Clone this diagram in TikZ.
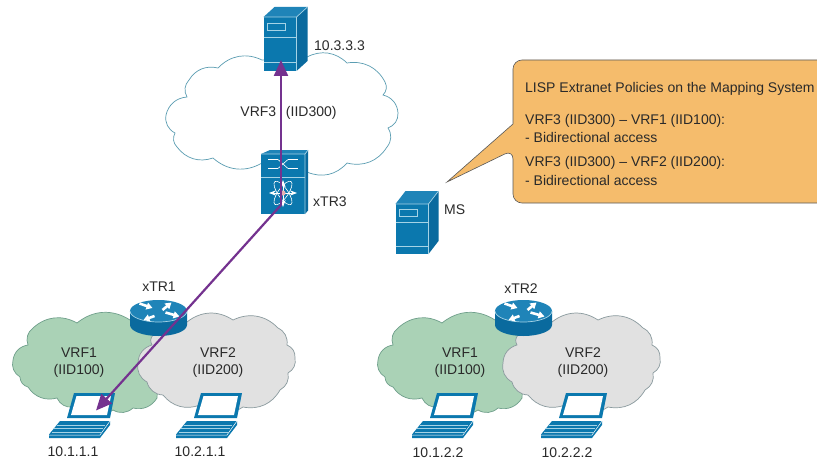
\documentclass[tikz,border=0pt]{standalone}
\usepackage{fontspec}
\setmainfont{Liberation Sans}
\usetikzlibrary{arrows.meta}
\definecolor{iconblue}{HTML}{0B78AE}
\definecolor{icontop}{HTML}{1F84B8}
\definecolor{icondark}{HTML}{0A6A9E}
\definecolor{iconline}{HTML}{A5D3E6}
\definecolor{cloudline}{HTML}{5B9DB2}
\definecolor{greenfill}{HTML}{AAD2B6}
\definecolor{greenline}{HTML}{6F9F8B}
\definecolor{grayfill}{HTML}{E1E1E1}
\definecolor{grayline}{HTML}{8A9A9E}
\definecolor{pathpurple}{HTML}{74328F}
\definecolor{calloutfill}{HTML}{F5BC6C}
\definecolor{inktext}{HTML}{2A2A2A}
\tikzset{
  lbl/.style={font=\fontsize{14}{16}\selectfont,text=inktext,inner sep=0pt},
  lblleft/.style={lbl,anchor=west},
  iconedge/.style={draw=iconline,line width=0.7pt},
  sc/.style={bend right=36},
  scr/.style={bend left=36},
  pathline/.style={draw=pathpurple,line width=2.2pt},
  patharrow/.style={pathline,-{Triangle[length=16pt,width=14pt]}},
}
% server: #1 = x of front left, #2 = y of front top, #3 = height, #4 = depth x, #5 = depth y
\newcommand{\serverbox}[5]{%
  \begin{scope}[shift={(#1,#2)}]
    \fill[iconblue] (0,0) -- (33,0) -- (33,#3) -- (0,#3) -- cycle;
    \fill[icontop] (0,0) -- (#4,-#5) -- (33+#4,-#5) -- (33,0) -- cycle;
    \fill[icondark] (33,0) -- (33+#4,-#5) -- (33+#4,#3-#5) -- (33,#3) -- cycle;
    \draw[iconedge] (0,0) -- (33,0) -- (33,#3) (33,0) -- (33+#4,-#5);
    \draw[iconedge] (0,0.37*#3) -- (33,0.37*#3);
    \draw[iconedge] (0,0.84*#3) -- (33,0.84*#3);
    \draw[iconedge] (4,0.11*#3) rectangle (22,0.24*#3);
  \end{scope}}
% laptop: #1 = x shift, first laptop at shift 0
\newcommand{\laptopicon}[1]{%
  \begin{scope}[xshift=#1]
    \fill[iconblue] (74,393) -- (115,393) -- (110,418) -- (67,418) -- cycle;
    \fill[white] (76.5,396) -- (111,396) -- (107,415) -- (71,415) -- cycle;
    \fill[iconblue] (60,421) -- (110,421) -- (110,425) -- (100,438) -- (49,438) -- (49,434.5) -- cycle;
    \draw[iconline,line width=0.4pt] (57,425) -- (105,425) (54,428.5) -- (103,428.5) (52,432) -- (101,432);
    \draw[white,line width=0.5pt] (49,435) -- (100,435) -- (110,421);
  \end{scope}}
% router: #1 = x centre
\newcommand{\routericon}[1]{%
  \begin{scope}[xshift=#1]
    \fill[icondark] (-28.5,311) -- (-28.5,325) arc[start angle=180,end angle=360,x radius=28.5,y radius=-11] -- (28.5,311) -- cycle;
    \fill[icontop] (0,311) ellipse[x radius=28.5,y radius=11];
    \draw[iconedge] (-28.5,311) arc[start angle=180,end angle=360,x radius=28.5,y radius=-11];
    \begin{scope}[white,line width=2.6pt,-{Triangle[length=6pt,width=7pt]}]
      \draw (-19,303.5) -- (-6,308);
      \draw (-4,316) -- (-15,320);
      \draw (4,310) -- (13,302.5);
      \draw (7,312.5) -- (21,316.5);
    \end{scope}
  \end{scope}}
% VRF1 and VRF2 clouds: #1 = x shift
\newcommand{\cloudpair}[1]{%
  \begin{scope}[xshift=#1]
    \filldraw[fill=greenfill,draw=greenline,line width=0.7pt]
      (130,320) to[sc] (77,323) to[sc] (33,328) to[sc] (28,345) to[sc] (13,360) to[sc] (20,377)
      to[sc] (28,387) to[sc] (57,398) to[sc] (73,407) to[sc] (113,410) to[sc] (133,408)
      to[sc] (157,398) -- (160,340) -- cycle;
    \filldraw[fill=grayfill,draw=grayline,line width=0.7pt]
      (187,322) to[scr] (233,320) to[scr] (278,328) to[scr] (287,345) to[scr] (295,358)
      to[scr] (288,373) to[scr] (280,390) to[scr] (243,407) to[scr] (200,405) to[scr] (163,395)
      to[scr] (147,382) to[scr] (138,363) to[scr] (152,345) to[scr] (153,335) -- cycle;
  \end{scope}}
\begin{document}
\begin{tikzpicture}[x=1pt,y=-1pt]
  \useasboundingbox (0,0) rectangle (817,460);
  \clip (0,0) rectangle (817,460);
  \fill[white] (0,0) rectangle (817,460);

  % VRF3 cloud
  \filldraw[fill=white,draw=cloudline,line width=0.7pt]
    (262,60) to[sc] (218,68) to[sc] (189,80) to[sc] (187,97) to[sc] (166,115) to[sc] (175,133)
    to[sc] (177,147) to[sc] (213,158) to[sc] (262,163) to[sc] (307,172) to[sc] (347,163)
    to[sc] (387,147) to[sc] (388,128) to[sc] (398,113) to[sc] (383,95) to[sc] (385,82)
    to[sc] (347,63) to[sc] (307,57) -- cycle;

  % lower clouds
  \cloudpair{0}
  \cloudpair{365}

  % callout
  \filldraw[fill=calloutfill,draw=black!65,line width=0.6pt,rounded corners=9pt]
    (513,60) -- (840,60) -- (840,203) -- (513,203) -- (513,150)
    [sharp corners] -- (447,182) -- (513,124) [rounded corners=9pt] -- cycle;

  % devices
  \serverbox{263.5}{17}{54}{11}{10}
  \serverbox{395.5}{204}{50}{10}{13}

  % xTR3 switch
  \fill[iconblue] (261,154) rectangle (305,214);
  \fill[icontop] (261,154) -- (270,150) -- (308,150) -- (305,154) -- cycle;
  \fill[icondark] (305,154) -- (308,150) -- (308,210.5) -- (305,214) -- cycle;
  \draw[iconedge] (261,154) -- (305,154) -- (305,214) (305,154) -- (308,150);
  \draw[iconedge] (261,177) -- (305,177);
  \begin{scope}[white,line width=1.8pt]
    \draw (268,159.5) -- (278,159.5) (268,168.5) -- (278,168.5);
    \draw (288,159.5) -- (298,159.5) (288,168.5) -- (298,168.5);
  \end{scope}
  \draw[white,line width=0.6pt] (278,159.5) -- (288,168.5) (278,168.5) -- (288,159.5);
  \begin{scope}[white,line width=0.6pt]
    \draw[rotate around={55:(283,193)}] (283,193) ellipse[x radius=14,y radius=5];
    \draw[rotate around={-55:(283,193)}] (283,193) ellipse[x radius=14,y radius=5];
    \draw[<->,>=Stealth,line width=0.9pt] (269,193) -- (297,193);
    \draw[<->,>=Stealth,line width=0.9pt] (283,180) -- (283,207);
  \end{scope}
  \fill[pink!80!gray] (283,193) circle[radius=2.6];

  \laptopicon{0}
  \laptopicon{127}
  \laptopicon{363}
  \laptopicon{492}
  \routericon{158.5}
  \routericon{523.5}

  % labels
  \node[lblleft] (l3333) at (314,46) {10.3.3.3};
  \node[lbl] (lvrf3) at (288.5,112.5) {VRF3\hspace{0.7em}(IID300)};
  \node[lblleft] (lxtr3) at (313,202) {xTR3};
  \node[lblleft] (lms) at (444,210) {MS};
  \node[lbl] (lxtr1) at (159,286.5) {xTR1};
  \node[lbl] (lxtr2) at (521,288.5) {xTR2};
  \node[lbl] (a1) at (79,353) {VRF1};
  \node[lbl] (a2) at (79,371) {(IID100)};
  \node[lbl] (b1) at (218,353) {VRF2};
  \node[lbl] (b2) at (218,371) {(IID200)};
  \node[lbl] (c1) at (460,353) {VRF1};
  \node[lbl] (c2) at (460,371) {(IID100)};
  \node[lbl] (d1) at (583,353) {VRF2};
  \node[lbl] (d2) at (583,371) {(IID200)};
  \node[lbl] (h1) at (73,452) {10.1.1.1};
  \node[lbl] (h2) at (200,452) {10.2.1.1};
  \node[lbl] (h3) at (438,453) {10.1.2.2};
  \node[lbl] (h4) at (567,453) {10.2.2.2};

  \node[lblleft] (t0) at (525,89) {LISP Extranet Policies on the Mapping System};
  \node[lblleft] (t1) at (525,121) {VRF3 (IID300) – VRF1 (IID100):};
  \node[lblleft] (t2) at (525,137) {- Bidirectional access};
  \node[lblleft] (t3) at (525,163) {VRF3 (IID300) – VRF2 (IID200):};
  \node[lblleft] (t4) at (525,180) {- Bidirectional access};

  % purple connectors
  \coordinate (hub) at (281,205);
  \coordinate (srvtip) at (281,60);
  \coordinate (laptip) at (96,410.5);
  \draw[patharrow] (hub) -- (srvtip);
  \draw[patharrow] (hub) -- (laptip);
\end{tikzpicture}
\end{document}
